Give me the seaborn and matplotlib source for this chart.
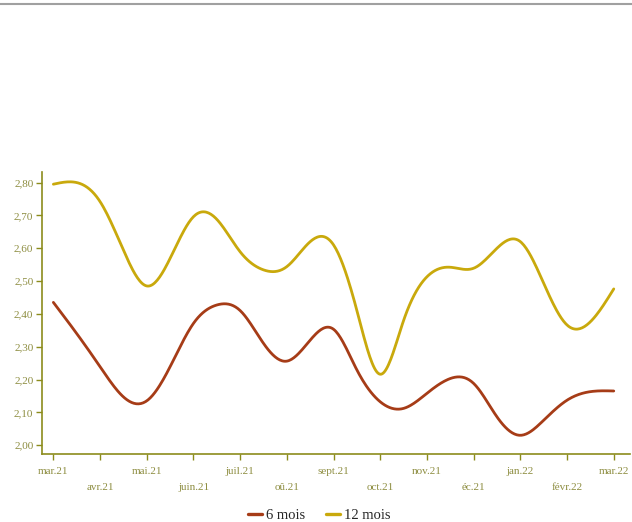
import numpy as np
import pandas as pd
import matplotlib
matplotlib.use("Agg")
import matplotlib.pyplot as plt
import seaborn as sns
from matplotlib.lines import Line2D

# month labels (as shown on the chart)
mois = ['mar.21', 'avr.21', 'mai.21', 'juin.21', 'juil.21', 'oû.21', 'sept.21',
        'oct.21', 'nov.21', 'éc.21', 'jan.22', 'févr.22', 'mar.22']

# values every half month (position 0 = mar.21)
pos = np.arange(0, 12.5, 0.5)
taux_6 = [2.435, 2.34, 2.239, 2.147, 2.135, 2.239, 2.371, 2.427, 2.41, 2.31, 2.256, 2.32, 2.353,
          2.229, 2.132, 2.112, 2.158, 2.203, 2.188, 2.086, 2.03, 2.076, 2.137, 2.163, 2.165]
taux_12 = [2.795, 2.80, 2.742, 2.594, 2.485, 2.569, 2.696, 2.688, 2.589, 2.534, 2.544, 2.62, 2.61,
           2.41, 2.216, 2.38, 2.513, 2.542, 2.539, 2.60, 2.62, 2.493, 2.366, 2.376, 2.476]

couleurs = {'6 mois': '#a63c17', '12 mois': '#c9a90c'}
axe_col = '#8c8c1c'
lab_col = '#8d8d40'


def lisser(x, y, n=20):
    # natural cubic spline through the points, only for drawing the curve
    x = np.asarray(x, float)
    y = np.asarray(y, float)
    k = len(x)
    h = np.diff(x)
    A = np.zeros((k, k))
    b = np.zeros(k)
    A[0, 0] = A[-1, -1] = 1
    for i in range(1, k - 1):
        A[i, i - 1] = h[i - 1]
        A[i, i] = 2 * (h[i - 1] + h[i])
        A[i, i + 1] = h[i]
        b[i] = 3 * ((y[i + 1] - y[i]) / h[i] - (y[i] - y[i - 1]) / h[i - 1])
    c = np.linalg.solve(A, b)
    xs, ys = [], []
    for i in range(k - 1):
        bb = (y[i + 1] - y[i]) / h[i] - h[i] * (2 * c[i] + c[i + 1]) / 3
        d = (c[i + 1] - c[i]) / (3 * h[i])
        t = np.linspace(0, h[i], n, endpoint=False)
        xs.append(x[i] + t)
        ys.append(y[i] + bb * t + c[i] * t ** 2 + d * t ** 3)
    xs.append([x[-1]])
    ys.append([y[-1]])
    return np.concatenate(xs), np.concatenate(ys)


rows = []
for nom, vals in [('6 mois', taux_6), ('12 mois', taux_12)]:
    sx, sy = lisser(pos, vals)
    rows.append(pd.DataFrame({'x': sx, 'y': sy, 'serie': nom}))
df = pd.concat(rows, ignore_index=True)

sns.set_style('white')
plt.rcParams['font.family'] = ['Liberation Serif', 'DejaVu Serif']

fig = plt.figure(figsize=(6.32, 5.22), dpi=100)
ax = fig.add_axes([0.067, 0.130, 0.930, 0.541])

sns.lineplot(data=df, x='x', y='y', hue='serie', palette=couleurs, sort=False,
             linewidth=2.0, ax=ax, legend=False)

ax.set_xlim(-0.236, 12.35)
ax.set_ylim(1.9726, 2.833)

yt = np.arange(2.0, 2.81, 0.1)
ax.set_yticks(yt)
ax.set_yticklabels([f'{v:.2f}'.replace('.', ',') for v in yt])

ax.set_xticks(range(0, 13, 2))
ax.set_xticklabels(mois[0::2])
ax.set_xticks(range(1, 13, 2), minor=True)
ax.set_xticklabels(mois[1::2], minor=True)

ax.tick_params(axis='x', which='both', length=4, width=1, color=axe_col,
               labelcolor=lab_col, labelsize=8, direction='out', bottom=True)
ax.tick_params(axis='x', which='major', pad=5)
ax.tick_params(axis='x', which='minor', pad=17)
ax.tick_params(axis='y', length=4.5, width=1, color=axe_col, labelcolor=lab_col,
               labelsize=8, pad=2, left=True)

for s in ['top', 'right']:
    ax.spines[s].set_visible(False)
for s in ['left', 'bottom']:
    ax.spines[s].set_color(axe_col)
    ax.spines[s].set_linewidth(1.2)
ax.set_xlabel('')
ax.set_ylabel('')
ax.grid(False)

handles = [Line2D([], [], color=couleurs[k], linewidth=2.4) for k in couleurs]
ax.legend(handles, list(couleurs), loc='center', bbox_to_anchor=(0.505, 0.012),
          bbox_transform=fig.transFigure, ncol=2, frameon=False, fontsize=10.5,
          handlelength=1.0, handletextpad=0.25, columnspacing=1.4)

# thin gray rule at the top of the frame
fig.add_artist(Line2D([0, 1], [0.9925, 0.9925], color='#a0a0a0', linewidth=1.5,
                      transform=fig.transFigure))

fig.savefig('out.png', dpi=100)
